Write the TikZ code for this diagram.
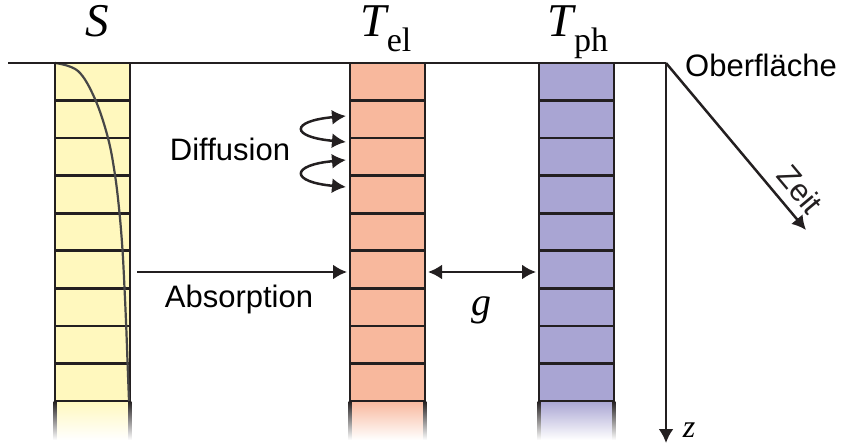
\documentclass[tikz,border=0pt]{standalone}
\usepackage{fontspec}
\setmainfont{Liberation Serif}
\setsansfont{Liberation Sans}
\usetikzlibrary{arrows.meta}
\definecolor{fillS}{HTML}{FFF8BE}
\definecolor{fillel}{HTML}{F8B89D}
\definecolor{fillph}{HTML}{A9A5D3}
\definecolor{edge}{HTML}{231F20}
\begin{document}
\begin{tikzpicture}[
  x=1pt, y=-1pt,
  arr/.style={-{Latex[length=14pt,width=15pt]}, line width=2.5pt, color=edge},
  darr/.style={{Latex[length=14pt,width=15pt]}-{Latex[length=14pt,width=15pt]}, line width=2.5pt, color=edge},
  cellline/.style={line width=2.6pt, color=edge},
  label/.style={font=\sffamily\fontsize{31}{36}\selectfont, inner sep=0pt},
  var/.style={font=\itshape\fontsize{47}{52}\selectfont, inner sep=0pt, anchor=base}
]
\useasboundingbox (0,0) rectangle (843,446);

% columns: fill, fade-out, cell lines and borders
\foreach \xl/\xr/\col in {55/130/fillS, 350/425/fillel, 539/614/fillph}{
  \fill[\col] (\xl,63) rectangle (\xr,401);
  \shade[top color=\col, bottom color=white] (\xl,401) rectangle (\xr,440);
  \foreach \k in {1,...,9}
    \draw[cellline] (\xl,63+37.56*\k) -- (\xr,63+37.56*\k);
  \draw[cellline] (\xl,63) -- (\xl,401);
  \draw[cellline] (\xr,63) -- (\xr,401);
  \shade[top color=edge, bottom color=white] (\xl-1.4,401) rectangle (\xl+1.4,440);
  \shade[top color=edge, bottom color=white] (\xr-1.4,401) rectangle (\xr+1.4,440);
}

% absorption profile
\draw[line width=2.2pt, color=black!72] plot[smooth, tension=0.6] coordinates
  {(55,63) (78,71) (95,99) (108,138) (115,175) (119.5,213) (122.5,250)
   (124.5,288) (126.2,326) (127.6,364) (129,401)};

% surface, time and depth axes
\coordinate (left) at (8,63);
\coordinate (corner) at (666,63);
\coordinate (zeit) at (806,230);
\coordinate (depth) at (666,443);
\draw[line width=2.5pt, color=edge] (left) -- (corner);
\draw[arr] (corner) -- node[label, pos=0.84, above=9pt, sloped]{Zeit} (zeit);
\draw[arr] (corner) -- (depth);

% titles
\node[var] (tS) at (97,37) {S};
\node[var] (tel) at (386,37) {T\raisebox{-0.3em}{\upshape\fontsize{34}{36}\selectfont el}};
\node[var] (tph) at (578,37) {T\raisebox{-0.3em}{\upshape\fontsize{34}{36}\selectfont ph}};
\node[label] (surf) at (761,65) {Oberfläche};
\node[var, font=\itshape\fontsize{32}{36}\selectfont] (zlab) at (689,437) {z};

% diffusion
\coordinate (d1a) at (346,116);
\coordinate (d1b) at (346,142);
\coordinate (d2a) at (346,160);
\coordinate (d2b) at (346,187);
\draw[darr] (d1a) .. controls (290,121) and (290,137) .. (d1b);
\draw[darr] (d2a) .. controls (290,165) and (290,182) .. (d2b);
\node[label] (diff) at (230,149) {Diffusion};

% absorption and coupling
\coordinate (absA) at (137,272);
\coordinate (absB) at (347,272);
\coordinate (gA) at (428,272);
\coordinate (gB) at (536,272);
\draw[arr] (absA) -- (absB);
\draw[darr] (gA) -- (gB);
\node[label] (abs) at (239,299) {Absorption};
\node[var, font=\itshape\fontsize{40}{44}\selectfont] (glab) at (481,316) {g};

\end{tikzpicture}
\end{document}
